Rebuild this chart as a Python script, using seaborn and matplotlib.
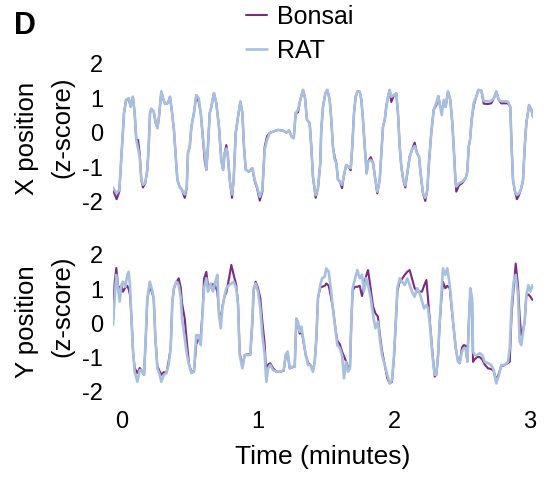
import numpy as np
import pandas as pd
import matplotlib
matplotlib.use("Agg")
import matplotlib.pyplot as plt
import seaborn as sns

# time axis in minutes, X position panel
time_x = [-0.07, -0.04, -0.02, 0.0, 0.015, 0.03, 0.05, 0.064, 0.08, 0.093,
          0.105, 0.118, 0.13, 0.142, 0.154, 0.171, 0.186, 0.196, 0.206, 0.215,
          0.233, 0.248, 0.26, 0.272, 0.289, 0.301, 0.318, 0.338, 0.353, 0.368,
          0.382, 0.395, 0.407, 0.424, 0.441, 0.461, 0.476, 0.485, 0.498, 0.51,
          0.529, 0.546, 0.564, 0.579, 0.596, 0.608, 0.62, 0.632, 0.645, 0.657,
          0.676, 0.693, 0.713, 0.73, 0.743, 0.755, 0.767, 0.779, 0.792, 0.809,
          0.821, 0.836, 0.853, 0.87, 0.885, 0.897, 0.91, 0.934, 0.958, 0.976,
          0.993, 1.013, 1.032, 1.049, 1.066, 1.086, 1.11, 1.147, 1.184, 1.208,
          1.228, 1.248, 1.263, 1.277, 1.294, 1.311, 1.331, 1.346, 1.36, 1.38,
          1.392, 1.404, 1.424, 1.441, 1.458, 1.465, 1.478, 1.495, 1.51, 1.527,
          1.539, 1.551, 1.564, 1.576, 1.588, 1.603, 1.618, 1.632, 1.649, 1.667,
          1.682, 1.693, 1.706, 1.718, 1.73, 1.748, 1.76, 1.772, 1.785, 1.799,
          1.809, 1.829, 1.846, 1.863, 1.877, 1.895, 1.907, 1.919, 1.932, 1.943,
          1.956, 1.968, 1.98, 2.0, 2.017, 2.029, 2.042, 2.054, 2.068, 2.083,
          2.098, 2.115, 2.132, 2.152, 2.169, 2.184, 2.196, 2.213, 2.23, 2.245,
          2.257, 2.274, 2.292, 2.311, 2.326, 2.34, 2.351, 2.365, 2.38, 2.397,
          2.414, 2.429, 2.439, 2.449, 2.458, 2.478, 2.502, 2.527, 2.539, 2.549,
          2.559, 2.571, 2.586, 2.605, 2.62, 2.642, 2.66, 2.691, 2.715, 2.735,
          2.752, 2.77, 2.789, 2.814, 2.838, 2.855, 2.865, 2.875, 2.89, 2.904,
          2.919, 2.936, 2.949, 2.961, 2.973, 2.993, 3.01, 3.022]

rat_x = [-1.56, -1.75, -1.65, -0.40, 0.58, 0.96, 1.01, 0.76, 1.05, 0.58,
         -0.20, -0.45, -0.69, -1.36, -1.50, -1.45, -1.07, -0.40, 0.58, 0.70,
         0.62, 0.29, 0.14, 0.47, 1.20, 1.01, 0.84, 0.87, 1.05, 0.58,
         0.09, -0.69, -1.36, -1.56, -1.65, -1.78, -1.56, -0.58, -0.40, 0.18,
         0.58, 1.10, 1.01, 0.58, -0.20, -0.60, -1.07, -0.40, 0.58, 0.76,
         1.16, 0.87, 0.18, -0.78, -1.07, -0.58, -0.45, -0.69, -1.36, -1.78,
         -1.36, 0.00, 0.47, 0.91, 0.58, -0.40, -1.07, -1.12, -1.02, -1.36,
         -1.56, -1.85, -1.65, -0.49, -0.20, 0.00, 0.04, 0.09, 0.07, 0.01,
         0.07, -0.11, -0.15, 0.58, 0.67, 0.96, 1.25, 1.01, 0.38, 0.29,
         -0.40, -1.27, -1.80, -1.60, -0.87, 0.09, 0.76, 1.15, 1.25, 0.96,
         0.38, -0.40, -0.78, -0.87, -1.36, -1.41, -1.50, -1.22, -0.93, -0.98,
         -1.02, -0.40, 0.58, 1.05, 1.20, 1.20, 0.96, 0.38, -0.40, -1.17,
         -0.83, -0.78, -0.87, -1.36, -1.70, -1.36, -0.58, 0.18, 0.38, 0.76,
         1.05, 1.25, 1.05, 1.10, 1.15, 0.58, -0.40, -0.98, -1.36, -1.52,
         -1.17, -0.69, -0.49, -0.38, -0.58, -0.69, -1.17, -1.75, -1.88, -1.65,
         -0.87, 0.00, 0.67, 0.87, 1.07, 0.76, 0.52, 0.96, 0.76, 1.20,
         0.96, 0.28, -0.40, -1.17, -1.55, -1.46, -1.41, -1.31, -1.12, -0.40,
         -0.20, 0.38, 0.87, 1.05, 1.25, 1.23, 0.93, 0.92, 0.93, 1.01,
         1.20, 0.96, 0.92, 0.92, 0.91, 0.76, -0.40, -1.36, -1.70, -1.80,
         -1.75, -1.60, -1.36, -0.40, 0.28, 0.81, 0.67, 0.47]

bonsai_x = [-1.60, -1.92, -1.70, -0.40, 0.58, 0.96, 0.98, 0.76, 1.05, 0.58,
            -0.20, -0.20, -0.60, -1.36, -1.58, -1.45, -1.07, -0.40, 0.58, 0.70,
            0.62, 0.29, 0.14, 0.47, 1.20, 1.01, 0.84, 0.87, 1.05, 0.58,
            0.09, -0.69, -1.36, -1.56, -1.65, -1.88, -1.60, -0.58, -0.40, 0.18,
            0.58, 1.10, 0.90, 0.58, -0.20, -0.80, -1.07, -0.40, 0.58, 0.76,
            1.16, 0.87, 0.18, -0.78, -1.07, -0.58, -0.35, -0.69, -1.36, -1.88,
            -1.36, 0.00, 0.47, 0.91, 0.58, -0.40, -1.07, -1.12, -1.02, -1.40,
            -1.60, -1.96, -1.70, -0.40, -0.10, 0.00, 0.04, 0.09, 0.07, 0.01,
            0.07, -0.11, -0.15, 0.58, 0.60, 0.96, 1.25, 1.01, 0.38, 0.29,
            -0.40, -1.27, -1.88, -1.60, -0.87, 0.09, 0.76, 1.15, 1.25, 0.96,
            0.38, -0.40, -0.70, -0.87, -1.36, -1.41, -1.60, -1.22, -0.93, -0.98,
            -1.08, -0.40, 0.58, 1.05, 1.20, 1.20, 0.96, 0.38, -0.40, -1.17,
            -0.83, -0.70, -0.87, -1.36, -1.75, -1.36, -0.58, 0.18, 0.38, 0.76,
            1.05, 1.25, 0.90, 1.10, 1.15, 0.58, -0.40, -0.98, -1.36, -1.58,
            -1.17, -0.69, -0.49, -0.28, -0.58, -0.69, -1.17, -1.75, -1.97, -1.65,
            -0.87, 0.00, 0.67, 0.80, 1.07, 0.76, 0.70, 0.80, 0.76, 1.20,
            0.96, 0.28, -0.40, -1.17, -1.70, -1.52, -1.45, -1.31, -1.12, -0.40,
            -0.20, 0.38, 0.80, 1.05, 1.25, 1.23, 0.85, 0.84, 0.86, 1.01,
            1.20, 0.96, 0.86, 0.86, 0.86, 0.76, -0.40, -1.36, -1.70, -1.92,
            -1.80, -1.60, -1.36, -0.40, 0.28, 0.81, 0.67, 0.47]

# time axis in minutes, Y position panel
time_y = [-0.066, -0.054, -0.042, -0.029, -0.017, -0.005, 0.007, 0.024, 0.039, 0.049,
          0.059, 0.068, 0.081, 0.093, 0.113, 0.13, 0.142, 0.162, 0.174, 0.186,
          0.204, 0.221, 0.233, 0.245, 0.26, 0.277, 0.289, 0.307, 0.326, 0.343,
          0.358, 0.37, 0.382, 0.399, 0.417, 0.432, 0.441, 0.461, 0.478, 0.493,
          0.51, 0.529, 0.546, 0.564, 0.579, 0.593, 0.603, 0.62, 0.632, 0.652,
          0.669, 0.686, 0.701, 0.713, 0.726, 0.738, 0.755, 0.767, 0.787, 0.804,
          0.821, 0.84, 0.853, 0.865, 0.885, 0.902, 0.926, 0.943, 0.958, 0.968,
          0.983, 1.0, 1.017, 1.032, 1.049, 1.061, 1.074, 1.09, 1.11, 1.135,
          1.16, 1.189, 1.204, 1.218, 1.233, 1.252, 1.27, 1.282, 1.294, 1.307,
          1.318, 1.331, 1.351, 1.368, 1.385, 1.404, 1.417, 1.429, 1.441, 1.458,
          1.471, 1.491, 1.502, 1.52, 1.535, 1.551, 1.568, 1.583, 1.601, 1.618,
          1.632, 1.647, 1.662, 1.676, 1.686, 1.696, 1.711, 1.73, 1.748, 1.765,
          1.779, 1.796, 1.809, 1.829, 1.846, 1.863, 1.882, 1.895, 1.912, 1.932,
          1.951, 1.968, 1.985, 2.0, 2.013, 2.025, 2.042, 2.059, 2.079, 2.098,
          2.115, 2.132, 2.152, 2.171, 2.189, 2.206, 2.221, 2.238, 2.25, 2.267,
          2.282, 2.299, 2.311, 2.324, 2.336, 2.348, 2.36, 2.377, 2.392, 2.41,
          2.424, 2.439, 2.454, 2.471, 2.483, 2.5, 2.513, 2.527, 2.539, 2.551,
          2.561, 2.574, 2.581, 2.593, 2.612, 2.63, 2.649, 2.667, 2.691, 2.715,
          2.733, 2.752, 2.772, 2.789, 2.814, 2.838, 2.851, 2.865, 2.88, 2.895,
          2.912, 2.924, 2.936, 2.949, 2.961, 2.973, 2.988, 3.003, 3.018]

rat_y = [-0.04, 0.74, 1.42, 1.03, 0.64, 1.12, 1.22, 1.07, 1.42, 1.51,
         1.12, 0.25, -0.82, -1.41, -1.70, -1.36, -1.36, -1.50, -0.43, 0.74,
         1.22, 0.98, 0.74, -0.43, -1.31, -1.50, -1.70, -1.50, -1.45, -1.21,
         -0.72, 0.64, 1.03, 1.22, 1.12, 0.74, 0.15, -0.43, -0.92, -1.21,
         -1.45, -1.41, -0.34, -0.34, -0.63, 0.34, 1.03, 1.32, 0.93, 1.17,
         0.93, 1.22, 1.42, 0.25, -0.14, 0.44, 0.83, 1.03, 1.12, 1.17,
         1.22, 1.03, 0.54, -0.92, -1.31, -0.92, -0.92, -0.92, 0.05, 1.03,
         1.17, 0.93, 0.44, -0.34, -0.92, -1.70, -1.31, -1.21, -1.36, -1.41,
         -1.41, -1.36, -0.92, -0.82, -1.31, -1.26, -1.26, 0.15, 0.05, -0.24,
         -0.09, -0.39, -0.92, -1.21, -1.21, -1.41, -1.12, -0.43, 0.74, 1.12,
         1.32, 1.37, 1.61, 1.51, 1.03, 0.44, -0.14, -0.63, -0.72, -0.92,
         -1.60, -1.12, -1.41, -1.31, 0.05, 1.03, 1.27, 1.56, 1.32, 1.42,
         0.93, 1.32, 1.12, 0.74, 0.25, -0.14, 0.05, -0.43, -0.92, -1.21,
         -1.50, -1.75, -1.65, -0.92, 0.05, 1.03, 1.32, 1.22, 1.12, 1.32,
         1.12, 0.93, 0.78, 1.03, 0.88, 0.64, 0.44, 0.54, 0.44, -0.14,
         -0.92, -1.50, -1.50, -0.92, 0.05, 0.83, 1.61, 1.42, 1.61, 1.12,
         0.54, -0.14, -0.72, -1.12, -1.16, -0.82, -0.72, -0.72, -1.12, 0.05,
         1.03, 0.74, -0.82, -0.92, -0.92, -0.87, -0.92, -1.12, -1.16, -1.21,
         -1.36, -1.75, -1.50, -1.21, -1.21, -1.12, -0.72, 0.54, 1.22, 1.42,
         0.83, -0.53, -0.63, -0.24, 0.05, 0.83, 1.12, 0.93, 1.12]

bonsai_y = [0.10, 1.20, 1.62, 1.10, 1.04, 1.10, 0.93, 1.05, 1.10, 1.00,
            0.83, 0.30, -0.80, -1.30, -1.45, -1.30, -1.36, -1.50, -0.50, 0.70,
            1.12, 0.90, 0.74, -0.40, -1.25, -1.40, -1.50, -1.42, -1.45, -1.10,
            -0.72, 0.64, 1.03, 1.20, 1.32, 1.05, 0.60, 0.15, -0.60, -1.20,
            -1.40, -1.41, -0.60, -0.45, -0.40, 0.40, 1.30, 1.51, 1.10, 1.05,
            1.15, 1.10, 0.93, 0.35, 0.10, 0.50, 0.80, 0.90, 1.32, 1.71,
            1.42, 1.12, 0.60, -0.85, -1.25, -0.92, -0.90, -0.92, 0.00, 0.95,
            1.22, 1.03, 0.74, 0.05, -0.60, -1.55, -1.20, -1.16, -1.30, -1.41,
            -1.41, -1.38, -0.92, -0.85, -1.31, -1.28, -1.26, 0.10, -0.05, -0.30,
            -0.15, -0.45, -0.92, -1.15, -1.21, -1.36, -1.12, -0.43, 0.74, 1.05,
            1.07, 1.10, 1.17, 1.10, 0.80, 0.44, -0.10, -0.50, -0.60, -0.82,
            -0.95, -1.10, -1.26, -1.31, 0.00, 0.95, 1.07, 1.07, 1.10, 0.80,
            1.10, 1.40, 1.56, 1.00, 0.50, 0.30, 0.20, -0.30, -0.80, -1.21,
            -1.60, -1.75, -1.70, -1.00, 0.00, 0.95, 1.22, 1.30, 1.42, 1.51,
            1.56, 1.32, 1.03, 0.93, 0.93, 0.93, 1.10, 1.27, 0.74, -0.10,
            -0.80, -1.55, -1.50, -0.95, 0.00, 0.70, 1.22, 1.03, 1.10, 1.03,
            0.44, -0.14, -0.72, -1.10, -1.16, -0.70, -0.63, -0.65, -1.10, 0.10,
            0.93, 0.60, -1.12, -1.05, -0.98, -0.98, -1.05, -1.20, -1.31, -1.33,
            -1.38, -1.65, -1.45, -1.25, -1.21, -1.15, -1.12, 0.30, 1.03, 1.75,
            1.10, 0.20, -0.34, -0.20, 0.05, 0.83, 0.85, 0.78, 0.69]

x_ticks = [0, 1, 2, 3]
z_ticks = [-2, -1, 0, 1, 2]

bonsai_color = "#7b2a80"
rat_color = "#a8c0e0"

sns.set_style("white")
plt.rcParams["font.family"] = ["Liberation Sans", "DejaVu Sans"]
plt.rcParams["text.color"] = "black"
plt.rcParams["xtick.color"] = "black"
plt.rcParams["ytick.color"] = "black"
plt.rcParams["axes.labelcolor"] = "black"

fig = plt.figure(figsize=(5.47, 4.79), dpi=100)

# axes rectangles in figure fractions
ax_top = fig.add_axes([0.2066, 0.5711, 0.7678, 0.3025])
ax_bot = fig.add_axes([0.2066, 0.1745, 0.7678, 0.3003])

panels = [(ax_top, time_x, bonsai_x, rat_x), (ax_bot, time_y, bonsai_y, rat_y)]
for ax, t, b, r in panels:
    sns.lineplot(x=t, y=b, ax=ax, color=bonsai_color, linewidth=1.5,
                 estimator=None, label="Bonsai")
    sns.lineplot(x=t, y=r, ax=ax, color=rat_color, linewidth=1.9,
                 estimator=None, label="RAT")
    ax.set_xlim(-0.0662, 3.0221)
    ax.set_ylim(-2.1, 2.1)
    ax.set_yticks(z_ticks)
    ax.set_yticklabels([str(v) for v in z_ticks])
    ax.tick_params(axis="both", length=0, labelsize=17, pad=7)
    ax.set_xlabel("")
    ax.set_ylabel("")
    ax.get_legend().remove()
    sns.despine(ax=ax, left=True, bottom=True)

ax_top.set_xticks([])
ax_bot.set_xticks(x_ticks)
ax_bot.set_xticklabels([str(v) for v in x_ticks])
ax_bot.tick_params(axis="x", pad=11)
ax_bot.set_xlabel("Time (minutes)", fontsize=19, labelpad=9)

# y labels as two separate lines
ylab = dict(rotation=90, fontsize=18.5, ha="center", va="center")
fig.text(27 / 547, 1 - 138 / 479, "X position", **ylab)
fig.text(62 / 547, 1 - 127 / 479, "(z-score)", **ylab)
fig.text(27 / 547, 1 - 322 / 479, "Y position", **ylab)
fig.text(62 / 547, 1 - 306 / 479, "(z-score)", **ylab)

fig.text(14 / 547, 1 - 26 / 479, "D", fontsize=22, fontweight="bold",
         ha="left", va="center")

handles, labels = ax_top.get_legend_handles_labels()
fig.legend(handles, labels, loc="upper left", bbox_to_anchor=(246 / 547, 1 - 5 / 479),
           frameon=False, fontsize=18, handlelength=0.85, handletextpad=0.4,
           labelspacing=0.4, borderpad=0, borderaxespad=0)

fig.savefig("out.png", dpi=100)
